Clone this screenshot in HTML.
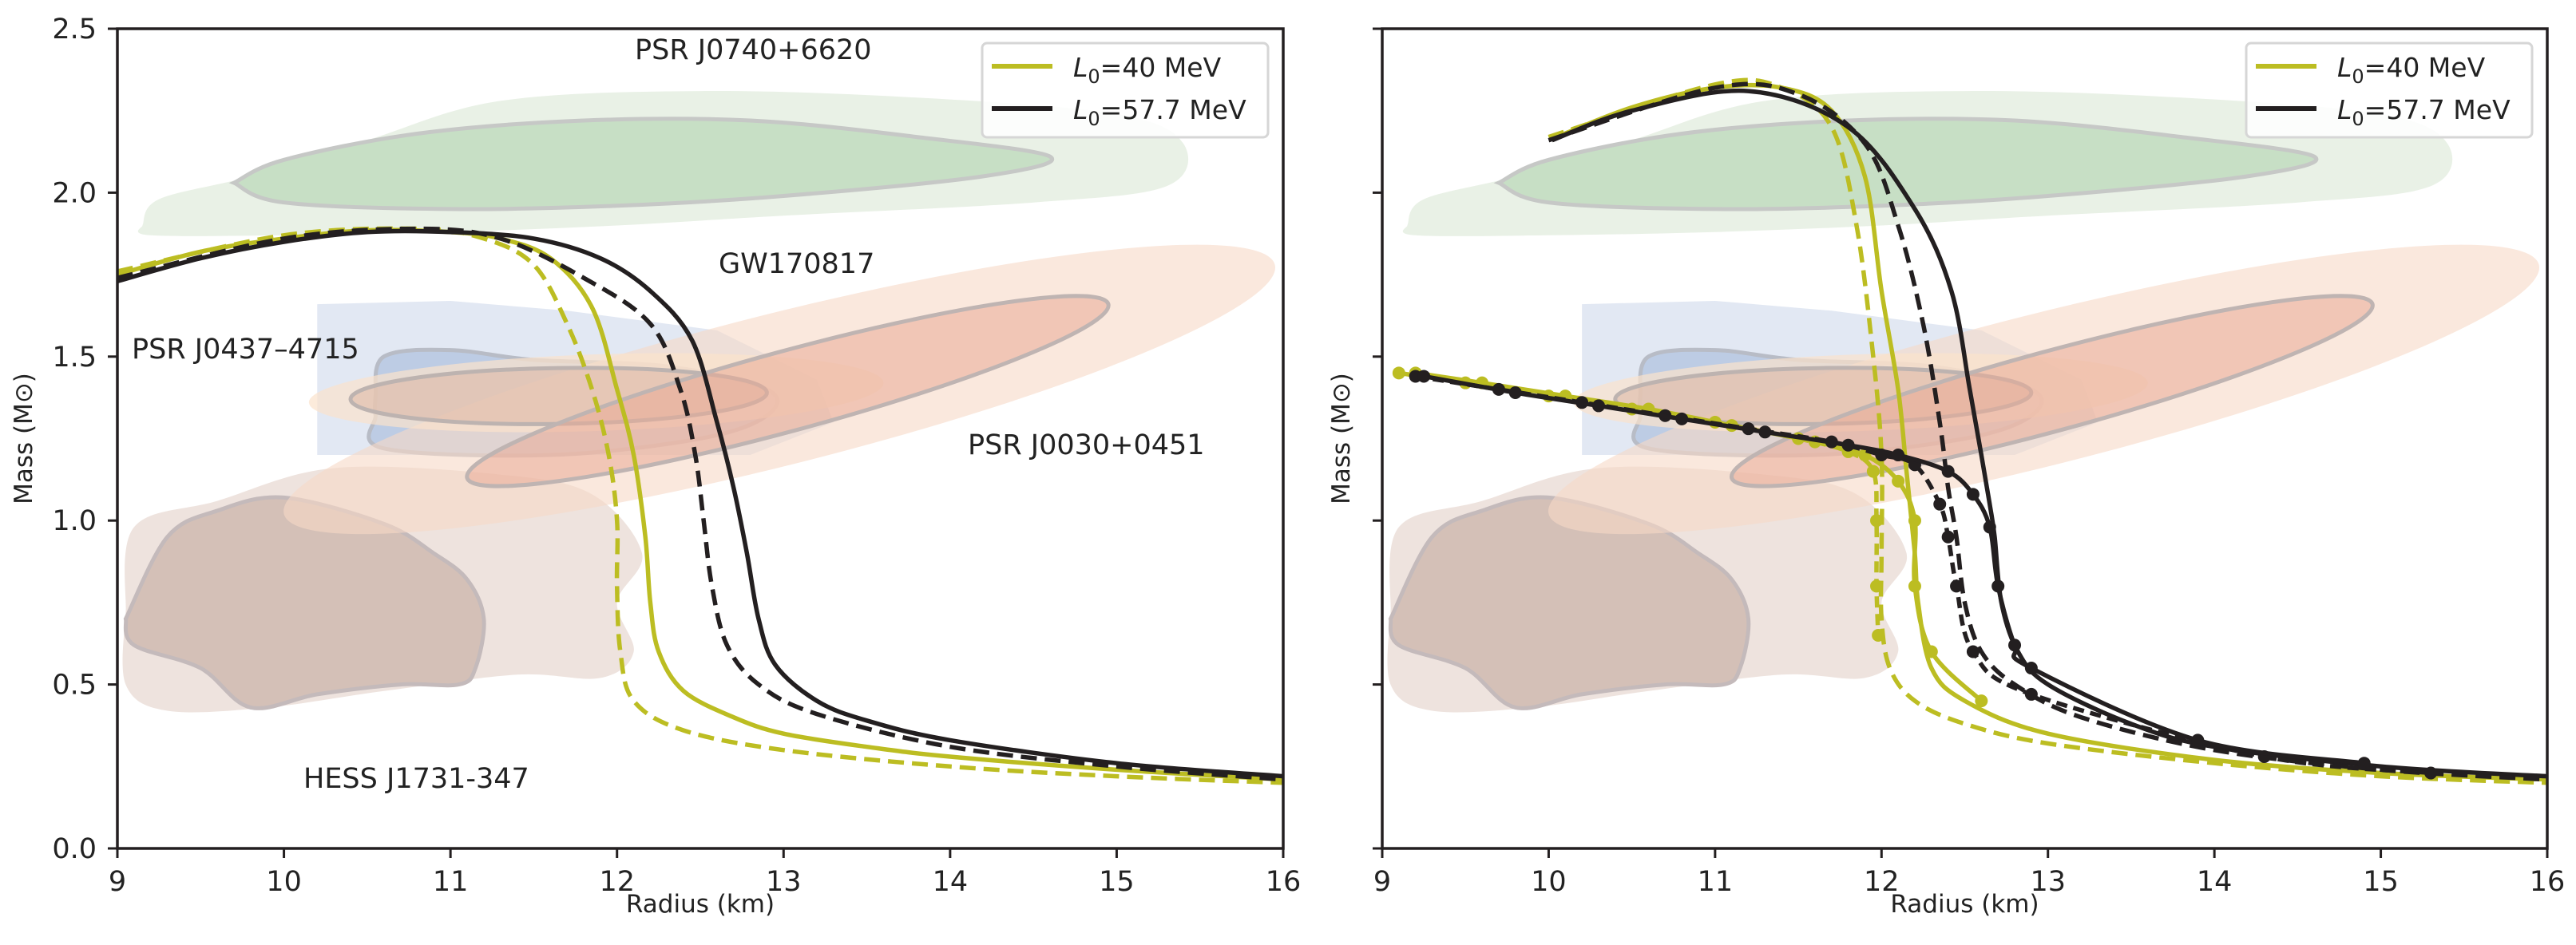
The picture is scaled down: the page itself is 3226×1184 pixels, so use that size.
<!DOCTYPE html>
<html><head><meta charset="utf-8"><style>
html,body{margin:0;padding:0;background:#fff}
svg{display:block}
text{font-family:"DejaVu Sans","Liberation Sans",sans-serif;fill:#222}
</style></head><body>
<svg id="fig" width="3226" height="1184" viewBox="0 0 3226 1184" xmlns="http://www.w3.org/2000/svg"></svg>
<script>
// ---- data (Radius km, Mass Msun) ----
const xTicks=[9,10,11,12,13,14,15,16];
const yTicks=[0.0,0.5,1.0,1.5,2.0,2.5];
const legendLabels=["40 MeV","57.7 MeV"];
// left panel
const L_y_solid_R=[9,9.5,10,10.5,11,11.3,11.6,11.85,12.0,12.1,12.17,12.2,12.25,12.4,12.7,13,13.5,14,15,16];
const L_y_solid_M=[1.75,1.82,1.86,1.885,1.88,1.86,1.8,1.65,1.4,1.2,0.95,0.75,0.6,0.48,0.4,0.35,0.31,0.28,0.24,0.21];
const L_y_dash_R=[9,10,10.8,11.2,11.5,11.7,11.85,11.95,12.0,12.0,12.02,12.1,12.4,13,14,15,16];
const L_y_dash_M=[1.76,1.87,1.89,1.86,1.78,1.6,1.4,1.2,1.0,0.8,0.6,0.45,0.36,0.3,0.25,0.22,0.2];
const L_k_solid_R=[9,9.5,10,10.5,11,11.5,11.9,12.2,12.45,12.6,12.7,12.78,12.85,12.95,13.2,13.5,14,15,16];
const L_k_solid_M=[1.73,1.8,1.85,1.88,1.88,1.86,1.8,1.7,1.55,1.3,1.1,0.9,0.7,0.56,0.45,0.39,0.33,0.26,0.22];
const L_k_dash_R=[9,10,10.8,11.3,11.8,12.2,12.38,12.47,12.52,12.57,12.66,12.85,13.2,14,15,16];
const L_k_dash_M=[1.74,1.86,1.89,1.86,1.74,1.6,1.4,1.2,1.0,0.8,0.62,0.5,0.41,0.31,0.25,0.21];
// right panel
const R_y_solid_R=[10.05,10.5,11,11.4,11.7,11.9,12.0,12.1,12.15,12.2,12.22,12.3,12.5,13,14,15,16];
const R_y_solid_M=[2.17,2.26,2.32,2.32,2.25,2.05,1.7,1.4,1.15,0.9,0.75,0.55,0.45,0.35,0.27,0.23,0.21];
const R_y_dash_R=[10,11,11.4,11.7,11.85,11.95,12.0,12.0,12.0,12.05,12.2,12.5,13,14,15,16];
const R_y_dash_M=[2.17,2.33,2.32,2.2,1.9,1.5,1.2,0.9,0.7,0.55,0.45,0.38,0.32,0.26,0.22,0.2];
const R_k_solid_R=[10.02,10.5,11.2,11.8,12.2,12.42,12.53,12.6,12.65,12.68,12.72,12.82,13,13.5,14,15,16];
const R_k_solid_M=[2.16,2.25,2.31,2.2,1.95,1.7,1.4,1.2,1.05,0.95,0.75,0.6,0.5,0.38,0.31,0.25,0.22];
const R_k_dash_R=[10,11,11.5,11.9,12.1,12.25,12.35,12.4,12.45,12.5,12.6,12.8,13.2,14,15,16];
const R_k_dash_M=[2.16,2.32,2.3,2.15,1.9,1.6,1.3,1.1,0.95,0.75,0.6,0.5,0.4,0.3,0.24,0.21];
// dotted branches (right panel)
const B_y_dash_R=[9.1,9.5,10,10.5,11,11.5,11.8,11.95,11.97,11.97,11.98];
const B_y_dash_M=[1.45,1.42,1.38,1.34,1.3,1.25,1.21,1.15,1.0,0.8,0.65];
const B_y_solid_R=[9.2,9.6,10.1,10.6,11.1,11.6,11.9,12.1,12.2,12.2,12.3,12.6];
const B_y_solid_M=[1.45,1.42,1.38,1.34,1.29,1.24,1.2,1.12,1.0,0.8,0.6,0.45];
const B_k_dash_R=[9.2,9.7,10.2,10.7,11.2,11.7,12.0,12.2,12.35,12.4,12.45,12.55,12.9,14.3,15.3];
const B_k_dash_M=[1.44,1.4,1.36,1.32,1.28,1.24,1.2,1.17,1.05,0.95,0.8,0.6,0.47,0.28,0.23];
const B_k_solid_R=[9.25,9.8,10.3,10.8,11.3,11.8,12.1,12.4,12.55,12.65,12.7,12.8,12.9,13.9,14.9];
const B_k_solid_M=[1.44,1.39,1.35,1.31,1.27,1.23,1.2,1.15,1.08,0.98,0.8,0.62,0.55,0.33,0.26];

// ---- axes ----
const panels=[{x0:147,x1:1607,name:'left'},{x0:1731,x1:3190,name:'right'}];
const Y0=1063,Y1=36;
function sx(p,r){return p.x0+(r-9)/7*(p.x1-p.x0);}
function sy(m){return Y0-(m/2.5)*(Y0-Y1);}
const NS='http://www.w3.org/2000/svg';
const svg=document.getElementById('fig');
function el(tag,attrs,parent){const e=document.createElementNS(NS,tag);for(const k in attrs)e.setAttribute(k,attrs[k]);(parent||svg).appendChild(e);return e;}
function smooth(pts){
  let d='M'+pts[0][0].toFixed(1)+','+pts[0][1].toFixed(1);
  for(let i=0;i<pts.length-1;i++){
    const p0=pts[Math.max(0,i-1)],p1=pts[i],p2=pts[i+1],p3=pts[Math.min(pts.length-1,i+2)];
    const c1=[p1[0]+(p2[0]-p0[0])/6,p1[1]+(p2[1]-p0[1])/6],c2=[p2[0]-(p3[0]-p1[0])/6,p2[1]-(p3[1]-p1[1])/6];
    d+=' C'+c1[0].toFixed(1)+','+c1[1].toFixed(1)+' '+c2[0].toFixed(1)+','+c2[1].toFixed(1)+' '+p2[0].toFixed(1)+','+p2[1].toFixed(1);
  }
  return d;
}
function poly(p,arr,closed){const pts=arr.map(a=>[sx(p,a[0]),sy(a[1])]);if(closed)pts.push(pts[0]);return smooth(pts)+(closed?'Z':'');}
function ell(p,a,b,ry,g,fill,stroke,op){
  const xa=sx(p,a[0]),ya=sy(a[1]),xb=sx(p,b[0]),yb=sy(b[1]);
  const cx=(xa+xb)/2,cy=(ya+yb)/2,rx=Math.hypot(xb-xa,yb-ya)/2,ang=Math.atan2(yb-ya,xb-xa)*180/Math.PI;
  return el('ellipse',{cx:cx,cy:cy,rx:rx,ry:ry,transform:`rotate(${ang} ${cx} ${cy})`,fill:fill,stroke:stroke||'none','stroke-width':5,'fill-opacity':op},g);
}
const YEL='#bcbd22',BLK='#231f20';
const curveSets=[
 [[L_y_solid_R,L_y_solid_M,YEL,null,'l40-solid'],[L_y_dash_R,L_y_dash_M,YEL,'20,10','l40-dashed'],[L_k_solid_R,L_k_solid_M,BLK,null,'l57-solid'],[L_k_dash_R,L_k_dash_M,BLK,'20,10','l57-dashed']],
 [[R_y_solid_R,R_y_solid_M,YEL,null,'l40-solid'],[R_y_dash_R,R_y_dash_M,YEL,'20,10','l40-dashed'],[R_k_solid_R,R_k_solid_M,BLK,null,'l57-solid'],[R_k_dash_R,R_k_dash_M,BLK,'20,10','l57-dashed']]
];
const branches=[[B_y_dash_R,B_y_dash_M,YEL,'14,8','l40-dashed-branch'],[B_y_solid_R,B_y_solid_M,YEL,null,'l40-solid-branch'],[B_k_dash_R,B_k_dash_M,BLK,'14,8','l57-dashed-branch'],[B_k_solid_R,B_k_solid_M,BLK,null,'l57-solid-branch']];

panels.forEach((p,pi)=>{
  const g=el('g',{});
  
  
  const clipId='clip'+pi;
  const cp=el('clipPath',{id:clipId},g);el('rect',{x:p.x0,y:Y1,width:p.x1-p.x0,height:Y0-Y1},cp);
  const reg=el('g',{'clip-path':`url(#${clipId})`},g);
  
  
  // HESS
  el('path',{d:poly(p,[[9.05,0.72],[9.1,0.98],[9.6,1.06],[10.3,1.16],[11.3,1.14],[11.85,1.08],[12.15,0.9],[12.0,0.75],[12.1,0.6],[11.9,0.52],[11.4,0.53],[10.6,0.48],[9.9,0.43],[9.3,0.42],[9.05,0.5]],true),fill:'#eee3de'},reg);
  el('path',{d:poly(p,[[9.05,0.7],[9.3,0.95],[9.6,1.03],[10.0,1.07],[10.6,0.99],[10.9,0.9],[11.1,0.82],[11.2,0.7],[11.15,0.55],[11.05,0.5],[10.7,0.5],[10.2,0.47],[9.8,0.43],[9.5,0.55],[9.1,0.62]],true),fill:'#d4c0b7',stroke:'#c4babb','stroke-width':5},reg);
  // J0740
  el('path',{d:poly(p,[[9.15,1.9],[9.25,1.98],[9.8,2.05],[10.5,2.16],[11.3,2.28],[12.5,2.31],[13.8,2.29],[15.0,2.24],[15.4,2.15],[15.3,2.02],[14.5,1.97],[13,1.93],[12,1.9],[11,1.88],[10,1.87],[9.2,1.87]],true),fill:'#e9f1e6'},reg);
  el('path',{d:poly(p,[[9.7,2.03],[10.0,2.1],[10.8,2.18],[11.8,2.22],[12.8,2.22],[13.8,2.17],[14.6,2.11],[14.2,2.05],[13,1.99],[12,1.96],[11,1.95],[10.0,1.97]],true),fill:'#c7dfc5',stroke:'#c6c8c6','stroke-width':5},reg);
  // J0437
  el('path',{d:'M'+sx(p,10.2)+','+sy(1.2)+' L'+sx(p,10.2)+','+sy(1.66)+' L'+sx(p,11)+','+sy(1.67)+' L'+sx(p,11.7)+','+sy(1.64)+' L'+sx(p,12.6)+','+sy(1.58)+' L'+sx(p,13.2)+','+sy(1.43)+' L'+sx(p,13.3)+','+sy(1.3)+' L'+sx(p,12.8)+','+sy(1.2)+' Z',fill:'#dfe5f2','fill-opacity':0.9},reg);
  el('path',{d:poly(p,[[10.55,1.38],[10.6,1.5],[11.0,1.52],[11.5,1.49],[12.3,1.47],[12.9,1.4],[12.9,1.32],[12.5,1.25],[11.6,1.2],[10.6,1.22],[10.55,1.32]],true),fill:'#b9c9e2','fill-opacity':0.9,stroke:'#b8bcc6','stroke-width':5},reg);
  // GW170817 / J0030
  ell(p,[10.0,1.02],[15.95,1.78],95,reg,'#f6d8c6',null,0.6);
  ell(p,[10.15,1.36],[13.6,1.42],48,reg,'#fbe2cc',null,0.7);
  ell(p,[10.4,1.37],[12.9,1.39],35,reg,'#dbb5a2','#bdb3b0',0.55);
  ell(p,[11.1,1.13],[14.95,1.66],50,reg,'#e9a996','#bfb4b2',0.55);
  // curves
  const cg=el('g',{'clip-path':`url(#${clipId})`},g);
  curveSets[pi].forEach(c=>{
    const pts=c[0].map((r,i)=>[r,c[1][i]]);
    const path=el('path',{d:poly(p,pts,false),fill:'none',stroke:c[2],'stroke-width':5.5,'stroke-dasharray':c[3]||'none'},cg);
    
    
  });
  if(pi===1){
    branches.forEach(c=>{
      const pts=c[0].map((r,i)=>[r,c[1][i]]);
      const path=el('path',{d:poly(p,pts,false),fill:'none',stroke:c[2],'stroke-width':5.5,'stroke-dasharray':c[3]||'none'},cg);
      
      
      c[0].forEach((r,i)=>{
        const dot=el('circle',{cx:sx(p,r),cy:sy(c[1][i]),r:8,fill:c[2]},cg);
        
        
      });
    });
  }
  // axes frame
  const fr=el('rect',{x:p.x0,y:Y1,width:p.x1-p.x0,height:Y0-Y1,fill:'none',stroke:'#231f20','stroke-width':3.5},g);
  
  
  xTicks.forEach(t=>{
    const x=sx(p,t);
    el('line',{x1:x,y1:Y0,x2:x,y2:Y0+12,stroke:'#231f20','stroke-width':3},g);
    const tx=el('text',{x:x,y:Y0+53,'font-size':35,'text-anchor':'middle'},g);tx.textContent=t;
    
    
  });
  yTicks.forEach(t=>{
    const y=sy(t);
    el('line',{x1:p.x0-12,y1:y,x2:p.x0,y2:y,stroke:'#231f20','stroke-width':3},g);
    if(pi===0){const ty=el('text',{x:p.x0-26,y:y+12,'font-size':35,'text-anchor':'end'},g);ty.textContent=t.toFixed(1);
      
      }
  });
  const xl=el('text',{x:(p.x0+p.x1)/2,y:1143,'font-size':31,'text-anchor':'middle'},g);xl.textContent='Radius (km)';
  
  
  const yx=pi===0?40:1690,yy=(Y0+Y1)/2;
  const yl=el('text',{x:yx,y:yy,'font-size':31,'text-anchor':'middle',transform:`rotate(-90 ${yx} ${yy})`},g);yl.textContent='Mass (M\u2299)';
  
  
  // legend
  const lx=p.x1-377;
  const lg=el('g',{},g);
  
  
  el('rect',{x:lx,y:54,width:358,height:118,rx:6,fill:'#fff','fill-opacity':0.85,stroke:'#d6d6d6','stroke-width':3},lg);
  [YEL,BLK].forEach((c,i)=>{
    const yy2=83+i*53;
    el('line',{x1:lx+12,y1:yy2,x2:lx+88,y2:yy2,stroke:c,'stroke-width':6},lg);
    const t=el('text',{x:lx+114,y:yy2+13,'font-size':33},lg);
    t.innerHTML='<tspan font-style="italic">L</tspan><tspan font-size="24" dy="8">0</tspan><tspan dy="-8">='+legendLabels[i]+'</tspan>';
    
    
  });
  if(pi===0){
    [['PSR J0740+6620',795,74],['GW170817',900,342],['PSR J0437\u20134715',165,449],['PSR J0030+0451',1212,569],['HESS J1731-347',380,987]].forEach(a=>{
      const t=el('text',{x:a[1],y:a[2],'font-size':35},g);t.textContent=a[0];
      
      
    });
  }
});
</script>
</body></html>
